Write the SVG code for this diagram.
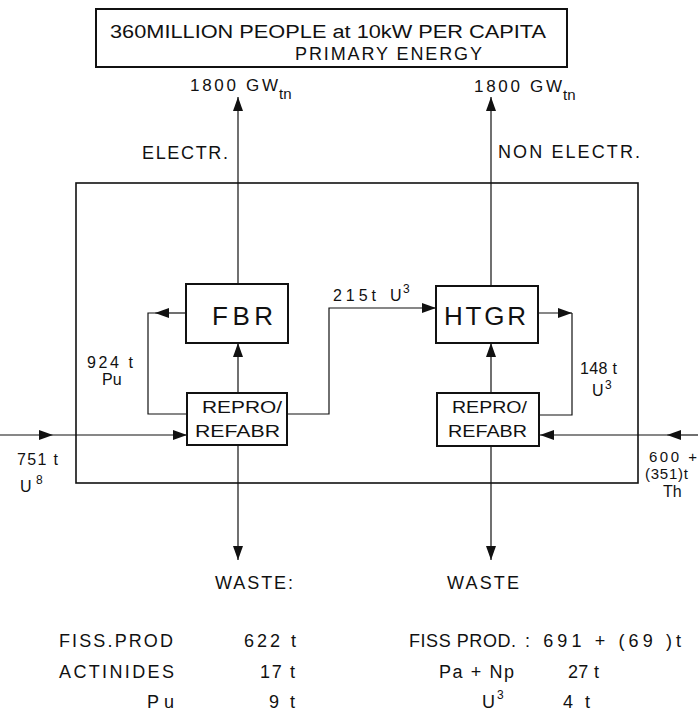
<svg xmlns="http://www.w3.org/2000/svg" width="698" height="725" viewBox="0 0 698 725">
<style>
text{font-family:"Liberation Sans",Arial,sans-serif;fill:#111;}
.box{fill:#fff;stroke:#111;stroke-width:2;}
.frame{fill:none;stroke:#111;stroke-width:1.6;}
.c{fill:none;stroke:#111;stroke-width:1.2;}
.ca{fill:none;stroke:#111;stroke-width:1.2;marker-end:url(#ah);}
.t18{font-size:18px;}
.t15{font-size:15px;}
.t16{font-size:16px;}
.t17{font-size:17px;}
.big{font-size:26px;}
.sup{font-size:12px;}
</style>
<defs>
<marker id="ah" viewBox="0 0 14 10" refX="14" refY="5" markerWidth="14" markerHeight="10" markerUnits="userSpaceOnUse" orient="auto"><path d="M0,0 L14,5 L0,10 z" fill="#111"/></marker>
</defs>
<rect width="698" height="725" fill="#fff"/>

<g id="title">
<rect class="box" x="96" y="9" width="471" height="58"/>
<text class="t18" x="110" y="38" textLength="436" lengthAdjust="spacingAndGlyphs">360MILLION PEOPLE at 10kW PER CAPITA</text>
<text class="t18" x="295" y="60" textLength="187" lengthAdjust="spacing">PRIMARY ENERGY</text>
</g>

<g id="frame">
<rect class="frame" x="76" y="183" width="562" height="300"/>
</g>

<g id="connectors">
<line class="ca" x1="238" y1="284" x2="238" y2="97"/>
<line class="ca" x1="491" y1="286" x2="491" y2="97"/>
<line class="ca" x1="238" y1="393" x2="238" y2="343"/>
<line class="ca" x1="491" y1="393" x2="491" y2="343"/>
<line class="ca" x1="238" y1="445" x2="238" y2="560"/>
<line class="ca" x1="491" y1="446" x2="491" y2="560"/>
<path class="ca" d="M287,414 H329 V308 H436"/>
<path class="ca" d="M186,313 H155"/>
<path class="c" d="M155,313 H148 V414 H187"/>
<path class="ca" d="M538,313 H572"/>
<path class="c" d="M572,313 V415 H539"/>
<line class="ca" x1="0" y1="435" x2="53" y2="435"/>
<line class="ca" x1="53" y1="435" x2="187" y2="435"/>
<line class="ca" x1="698" y1="435" x2="667" y2="435"/>
<line class="ca" x1="667" y1="435" x2="540" y2="435"/>
</g>

<g id="fbr">
<rect class="box" x="186" y="284" width="102" height="59"/>
<text class="big" x="212" y="325" textLength="61" lengthAdjust="spacing">FBR</text>
</g>
<g id="htgr">
<rect class="box" x="436" y="286" width="102" height="57"/>
<text class="big" x="444" y="325" textLength="82" lengthAdjust="spacing">HTGR</text>
</g>
<g id="repro-left">
<rect class="box" x="187" y="393" width="100" height="52"/>
<text class="t17" x="202" y="413" textLength="80" lengthAdjust="spacingAndGlyphs">REPRO/</text>
<text class="t17" x="195" y="437" textLength="85" lengthAdjust="spacingAndGlyphs">REFABR</text>
</g>
<g id="repro-right">
<rect class="box" x="437" y="393" width="102" height="53"/>
<text class="t17" x="452" y="413" textLength="75" lengthAdjust="spacingAndGlyphs">REPRO/</text>
<text class="t17" x="448" y="437" textLength="79" lengthAdjust="spacingAndGlyphs">REFABR</text>
</g>

<g id="labels">
<text class="t17" x="190" y="91" textLength="88" lengthAdjust="spacing">1800 GW</text>
<text class="t15" x="279" y="99">tn</text>
<text class="t17" x="474" y="92" textLength="88" lengthAdjust="spacing">1800 GW</text>
<text class="t15" x="563" y="100">tn</text>
<text class="t18" x="142" y="159" textLength="86" lengthAdjust="spacing">ELECTR.</text>
<text class="t18" x="498" y="158" textLength="142" lengthAdjust="spacing">NON ELECTR.</text>
<text class="t16" x="333" y="301" textLength="43" lengthAdjust="spacing">215t</text>
<text class="t16" x="390" y="301">U</text>
<text class="sup" x="403" y="293">3</text>
<text class="t16" x="87" y="368" textLength="46" lengthAdjust="spacing">924 t</text>
<text class="t16" x="102" y="385">Pu</text>
<text class="t16" x="580" y="374" textLength="37" lengthAdjust="spacing">148 t</text>
<text class="t16" x="592" y="396">U</text>
<text class="sup" x="605" y="389">3</text>
<text class="t16" x="17" y="465" textLength="41" lengthAdjust="spacing">751 t</text>
<text class="t16" x="20" y="492">U</text>
<text class="sup" x="36" y="484">8</text>
<text class="t15" x="649" y="462" textLength="48" lengthAdjust="spacing">600 +</text>
<text class="t15" x="645" y="479" textLength="43" lengthAdjust="spacing">(351)t</text>
<text class="t16" x="663" y="497">Th</text>
<text class="t18" x="215" y="589" textLength="78" lengthAdjust="spacing">WASTE:</text>
<text class="t18" x="447" y="589" textLength="72" lengthAdjust="spacing">WASTE</text>
</g>

<g id="table">
<text class="t18" x="59" y="647" textLength="114" lengthAdjust="spacing">FISS.PROD</text>
<text class="t18" x="244" y="647" textLength="52" lengthAdjust="spacing">622 t</text>
<text class="t18" x="59" y="678" textLength="115" lengthAdjust="spacing">ACTINIDES</text>
<text class="t18" x="260" y="678" textLength="35" lengthAdjust="spacing">17 t</text>
<text class="t18" x="147" y="708" textLength="27" lengthAdjust="spacing">Pu</text>
<text class="t18" x="269" y="708" textLength="26" lengthAdjust="spacing">9 t</text>
<text class="t18" x="409" y="647" textLength="107" lengthAdjust="spacing">FISS PROD.</text>
<text class="t18" x="525" y="647" textLength="156" lengthAdjust="spacing">: 691 + (69 )t</text>
<text class="t18" x="439" y="678" textLength="75" lengthAdjust="spacing">Pa + Np</text>
<text class="t18" x="568" y="678" textLength="31" lengthAdjust="spacing">27 t</text>
<text class="t18" x="482" y="708">U</text>
<text class="sup" x="497" y="699">3</text>
<text class="t18" x="563" y="708" textLength="27" lengthAdjust="spacing">4 t</text>
</g>
</svg>
